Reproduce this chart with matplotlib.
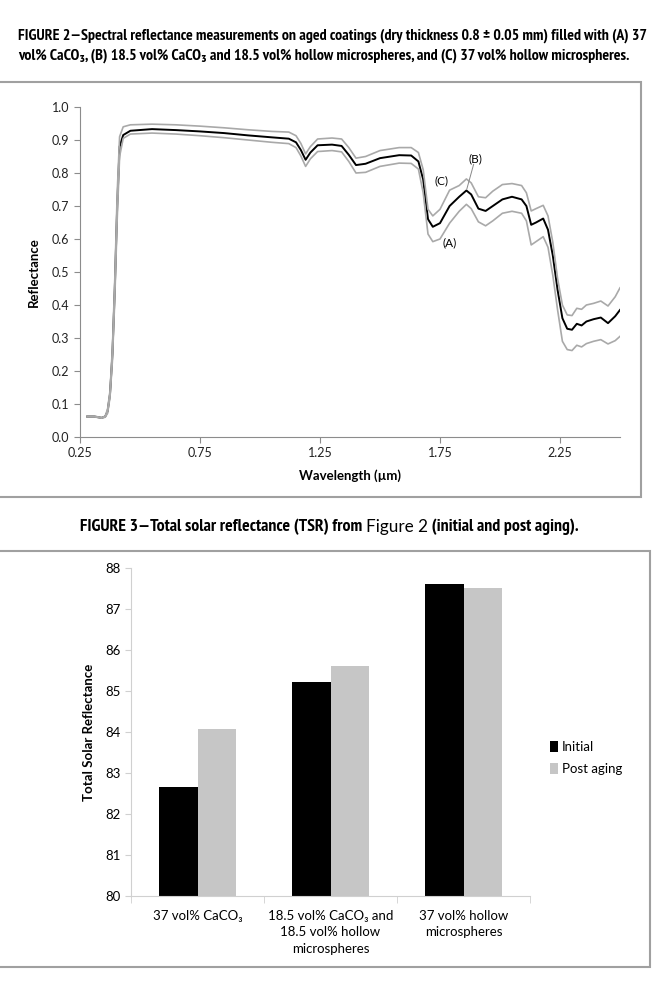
import matplotlib
matplotlib.use("Agg")
import matplotlib.pyplot as plt
from matplotlib import font_manager
from matplotlib.patches import Rectangle

# ---- Figure 2 data: spectral reflectance ----
wavelength = [0.28, 0.31, 0.34, 0.355, 0.365, 0.375, 0.385, 0.395, 0.405, 0.415,
              0.43, 0.46, 0.55, 0.65, 0.75, 0.85, 0.95, 1.05, 1.12, 1.15,
              1.17, 1.19, 1.21, 1.24, 1.30, 1.34, 1.37, 1.40, 1.44, 1.50,
              1.58, 1.63, 1.66, 1.68, 1.70, 1.72, 1.75, 1.79, 1.83, 1.86,
              1.88, 1.91, 1.94, 1.97, 2.01, 2.05, 2.09, 2.11, 2.13, 2.15,
              2.18, 2.20, 2.22, 2.24, 2.26, 2.28, 2.30, 2.32, 2.34, 2.36,
              2.39, 2.42, 2.45, 2.48, 2.50]

refl_B = [0.062, 0.062, 0.058, 0.062, 0.078, 0.13, 0.25, 0.45, 0.70, 0.88,
          0.915, 0.928, 0.933, 0.930, 0.926, 0.921, 0.914, 0.908, 0.904, 0.893,
          0.870, 0.840, 0.862, 0.884, 0.886, 0.882, 0.855, 0.824, 0.828, 0.845,
          0.854, 0.853, 0.835, 0.78, 0.66, 0.637, 0.648, 0.700, 0.728, 0.747,
          0.735, 0.692, 0.685, 0.700, 0.720, 0.728, 0.720, 0.700, 0.643, 0.650,
          0.662, 0.628, 0.55, 0.445, 0.36, 0.328, 0.325, 0.343, 0.338, 0.350,
          0.357, 0.362, 0.345, 0.366, 0.385]

refl_C = [0.063, 0.063, 0.059, 0.063, 0.085, 0.14, 0.27, 0.48, 0.74, 0.91,
          0.940, 0.946, 0.948, 0.946, 0.942, 0.937, 0.931, 0.926, 0.924, 0.913,
          0.890, 0.858, 0.880, 0.903, 0.906, 0.903, 0.877, 0.845, 0.850, 0.868,
          0.877, 0.877, 0.862, 0.81, 0.69, 0.670, 0.690, 0.748, 0.762, 0.782,
          0.770, 0.728, 0.725, 0.745, 0.765, 0.768, 0.762, 0.740, 0.685, 0.692,
          0.702, 0.670, 0.59, 0.48, 0.40, 0.370, 0.368, 0.390, 0.387, 0.400,
          0.405, 0.412, 0.397, 0.425, 0.452]

refl_A = [0.061, 0.061, 0.057, 0.060, 0.072, 0.12, 0.23, 0.42, 0.66, 0.85,
          0.905, 0.918, 0.921, 0.918, 0.913, 0.907, 0.900, 0.893, 0.889, 0.877,
          0.852, 0.820, 0.843, 0.865, 0.868, 0.864, 0.835, 0.800, 0.802, 0.820,
          0.830, 0.829, 0.812, 0.74, 0.615, 0.592, 0.600, 0.648, 0.684, 0.705,
          0.692, 0.652, 0.640, 0.655, 0.678, 0.684, 0.678, 0.655, 0.582, 0.592,
          0.607, 0.575, 0.49, 0.385, 0.29, 0.265, 0.262, 0.278, 0.273, 0.283,
          0.290, 0.295, 0.282, 0.292, 0.305]

x_ticks = [0.25, 0.75, 1.25, 1.75, 2.25]
y_ticks = [0.0, 0.1, 0.2, 0.3, 0.4, 0.5, 0.6, 0.7, 0.8, 0.9, 1.0]

# ---- Figure 3 data: total solar reflectance ----
categories = ["37 vol% CaCO\u2083",
              "18.5 vol% CaCO\u2083 and\n18.5 vol% hollow\nmicrospheres",
              "37 vol% hollow\nmicrospheres"]
tsr_initial = [82.67, 85.22, 87.60]
tsr_post = [84.07, 85.62, 87.52]
tsr_ticks = [80, 81, 82, 83, 84, 85, 86, 87, 88]

W, H = 670, 984
LAB = ["Lato", "DejaVu Sans"]
GREY = "#a9a9a9"


def condensed_bold():
    # pick a narrow bold face if one is installed, else Lato bold
    for f in font_manager.fontManager.ttflist:
        if "Narrow" in f.name and f.weight in (700, "bold"):
            return font_manager.FontProperties(fname=f.fname), True
    for f in font_manager.fontManager.ttflist:
        if f.stretch == "condensed" and f.weight in (700, "bold"):
            return font_manager.FontProperties(fname=f.fname), True
    return font_manager.FontProperties(family="Lato", weight="bold"), False


def fx(px):
    return px / W


def fy(px):
    return 1 - px / H


fig = plt.figure(figsize=(W / 100, H / 100), dpi=100)

cap_fp, narrow = condensed_bold()
cap_fp.set_size(11.4 if narrow else 10.3)
cap3_fp = cap_fp.copy()
cap3_fp.set_size(12.8 if narrow else 11.5)

# captions
fig.text(fx(18), fy(36),
         "FIGURE 2\u2014Spectral reflectance measurements on aged coatings "
         "(dry thickness 0.8 \u00b1 0.05 mm) filled with (A) 37",
         fontproperties=cap_fp, va="center", ha="left")
fig.text(fx(18), fy(56),
         "vol% CaCO\u2083, (B) 18.5 vol% CaCO\u2083 and 18.5 vol% hollow microspheres, "
         "and (C) 37 vol% hollow microspheres.",
         fontproperties=cap_fp, va="center", ha="left")

# figure 3 caption: "Figure 2" is set in a plain face in the original
renderer = fig.canvas.get_renderer()
pieces = [("FIGURE 3\u2014Total solar reflectance (TSR) from ", dict(fontproperties=cap3_fp)),
          ("Figure 2", dict(family=LAB, fontsize=12.3)),
          (" (initial and post aging).", dict(fontproperties=cap3_fp))]
x0 = 80
for txt, kw in pieces:
    t = fig.text(fx(x0), fy(527), txt, va="center", ha="left", **kw)
    x0 += t.get_window_extent(renderer).width

# frames around the two charts
for top, bot, right in [(82, 497, 641), (551, 967, 650)]:
    fig.add_artist(Rectangle((fx(-4), fy(bot)), fx(right + 4), (bot - top) / H,
                             transform=fig.transFigure, fill=False,
                             edgecolor="#a0a0a0", lw=1.5))

# ---- line chart ----
ax1 = fig.add_axes([fx(80), fy(437), fx(540), (437 - 107) / H])
ax1.plot(wavelength, refl_B, color="black", lw=1.4)
ax1.plot(wavelength, refl_C, color=GREY, lw=1.2)
ax1.plot(wavelength, refl_A, color=GREY, lw=1.2)
ax1.set_xlim(0.25, 2.5)
ax1.set_ylim(0, 1.0)
ax1.set_xticks(x_ticks)
ax1.set_xticklabels([f"{t:.2f}" for t in x_ticks])
ax1.set_yticks(y_ticks)
ax1.set_yticklabels([f"{t:.1f}" for t in y_ticks])
for s in ["top", "right"]:
    ax1.spines[s].set_visible(False)
for s in ["left", "bottom"]:
    ax1.spines[s].set_color("#8c8c8c")
ax1.tick_params(colors="#8c8c8c", labelcolor="#222222", length=4, labelsize=9)
for lbl in ax1.get_xticklabels() + ax1.get_yticklabels():
    lbl.set_family(LAB)
ax1.set_xlabel("Wavelength (\u00b5m)", family=LAB, weight="bold", fontsize=9.5,
               labelpad=7)
ax1.set_ylabel("Reflectance", family=LAB, weight="bold", fontsize=9.5,
               labelpad=9)
ax1.text(1.896, 0.842, "(B)", family=LAB, fontsize=8.5, ha="center", va="center")
ax1.plot([1.89, 1.862], [0.826, 0.752], color="#888888", lw=0.7)
ax1.text(1.757, 0.777, "(C)", family=LAB, fontsize=8.5, ha="center", va="center")
ax1.text(1.79, 0.59, "(A)", family=LAB, fontsize=8.5, ha="center", va="center")

# ---- bar chart ----
ax2 = fig.add_axes([fx(131), fy(896), fx(399), (896 - 568) / H])
pos = list(range(len(categories)))
bw = 0.29
ax2.bar([p - bw / 2 for p in pos], tsr_initial, width=bw, color="black",
        label="Initial")
ax2.bar([p + bw / 2 for p in pos], tsr_post, width=bw, color="#c6c6c6",
        label="Post aging")
ax2.set_ylim(80, 88)
ax2.set_xlim(-0.5, len(categories) - 0.5)
ax2.set_yticks(tsr_ticks)
ax2.set_xticks(pos)
ax2.set_xticklabels(categories, family=LAB, fontsize=9.5, linespacing=1.45)
ax2.set_xticks([p - 0.5 for p in range(len(categories) + 1)], minor=True)
ax2.tick_params(axis="x", which="major", length=0, pad=10)
ax2.tick_params(axis="x", which="minor", length=5, color="#d0d0d0")
ax2.tick_params(axis="y", length=4, color="#d0d0d0", labelsize=9.5)
for lbl in ax2.get_yticklabels():
    lbl.set_family(LAB)
for s in ["top", "right"]:
    ax2.spines[s].set_visible(False)
for s in ["left", "bottom"]:
    ax2.spines[s].set_color("#d0d0d0")
ax2.set_ylabel("Total Solar Reflectance", family=LAB, weight="bold",
               fontsize=9.5, labelpad=7)
ax2.legend(loc="center left", bbox_to_anchor=(1.02, 0.42), frameon=False,
           prop={"family": LAB, "size": 9.5}, handlelength=0.6, handleheight=0.9,
           handletextpad=0.3, labelspacing=0.75)

fig.savefig("out.png", dpi=100)
